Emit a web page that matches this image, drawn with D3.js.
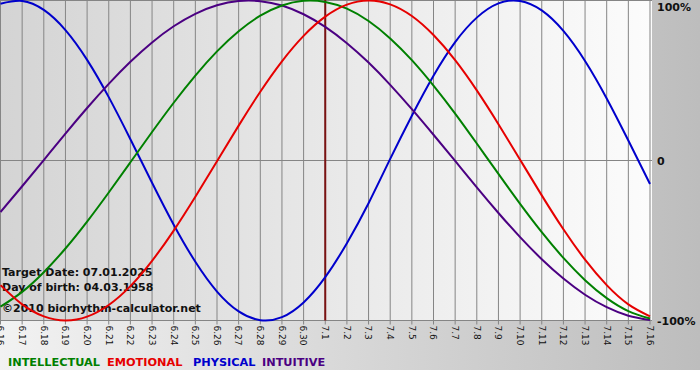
<!DOCTYPE html>
<html>
<head>
<meta charset="utf-8">
<script src="https://cdn.jsdelivr.net/npm/d3@7"></script>
<style>
  body { margin: 0; background: #fff; }
  svg { display: block; }
</style>
</head>
<body>
<svg id="chart"></svg>
<script>
// day labels, 6.16 .. 7.16
var days = ["6.16","6.17","6.18","6.19","6.20","6.21","6.22","6.23","6.24","6.25","6.26","6.27","6.28","6.29","6.30",
  "7.1","7.2","7.3","7.4","7.5","7.6","7.7","7.8","7.9","7.10","7.11","7.12","7.13","7.14","7.15","7.16"];
var targetDay = "7.1";

// values, -1 .. 1
var intellectual = [-0.914,-0.821,-0.698,-0.550,-0.382,-0.200,-0.011,0.178,0.361,0.531,0.682,0.808,0.905,0.969,0.998,
  0.991,0.949,0.872,0.763,0.627,0.468,0.293,0.106,-0.084,-0.271,-0.448,-0.609,-0.748,-0.860,-0.941,-0.988];
var emotional = [-0.779,-0.899,-0.974,-1.000,-0.976,-0.903,-0.785,-0.627,-0.438,-0.227,-0.005,0.218,0.430,0.620,0.779,
  0.899,0.974,1.000,0.976,0.903,0.784,0.627,0.438,0.227,0.005,-0.218,-0.430,-0.620,-0.779,-0.899,-0.974];
var physical = [0.980,0.997,0.941,0.815,0.629,0.396,0.133,-0.139,-0.401,-0.633,-0.819,-0.943,-0.998,-0.979,-0.887,
  -0.729,-0.517,-0.267,0.010,0.280,0.530,0.740,0.893,0.982,0.997,0.938,0.810,0.622,0.388,0.125,-0.147];
var intuitive = [-0.322,-0.161,0.003,0.168,0.328,0.479,0.617,0.738,0.839,0.917,0.970,0.997,0.996,0.969,0.914,
  0.835,0.733,0.612,0.473,0.321,0.161,-0.003,-0.168,-0.328,-0.479,-0.617,-0.738,-0.839,-0.917,-0.970,-0.997];

var seriesNames = ["INTELLECTUAL", "EMOTIONAL", "PHYSICAL", "INTUITIVE"];
var seriesColors = ["#008000", "#e60000", "#0000cc", "#4b0082"];
var yTicks = [1, 0, -1];
var yTickLabels = ["100%", "0", "-100%"];
var infoLines = ["Target Date: 07.01.2025", "Day of birth: 04.03.1958", "\u00a92010 biorhythm-calculator.net"];

var W = 700, H = 380;
var plotW = 652, plotH = 321;

var svg = d3.select("#chart").attr("width", W).attr("height", H);
var defs = svg.append("defs");

var bgGrad = defs.append("linearGradient").attr("id", "bg");
bgGrad.append("stop").attr("offset", "0%").attr("stop-color", "#f2f2f2");
bgGrad.append("stop").attr("offset", "100%").attr("stop-color", "#bdbdbd");

var plotGrad = defs.append("linearGradient").attr("id", "plotbg");
plotGrad.append("stop").attr("offset", "0%").attr("stop-color", "#d4d4d4");
plotGrad.append("stop").attr("offset", "100%").attr("stop-color", "#fcfcfc");

defs.append("clipPath").attr("id", "clip").append("rect")
  .attr("x", 0).attr("y", 0).attr("width", plotW).attr("height", plotH + 1);

svg.append("rect").attr("width", W).attr("height", 370).attr("fill", "url(#bg)");
svg.append("rect").attr("width", plotW).attr("height", plotH).attr("fill", "url(#plotbg)");

var x = d3.scaleLinear().domain([0, days.length - 1]).range([0.5, 650]);
var y = d3.scaleLinear().domain([-1, 1]).range([320.5, 0.5]);

// vertical grid + small ticks under the axis
svg.append("g").selectAll("line").data(days).join("line")
  .attr("x1", function(d, i) { return x(i); }).attr("x2", function(d, i) { return x(i); })
  .attr("y1", 0).attr("y2", y(-1) + 4)
  .attr("stroke", "#858585").attr("stroke-width", 1);

svg.append("g").selectAll("line").data(yTicks).join("line")
  .attr("x1", 0).attr("x2", plotW)
  .attr("y1", function(d) { return y(d); }).attr("y2", function(d) { return y(d); })
  .attr("stroke", "#858585").attr("stroke-width", 1);

// target date marker
var ti = days.indexOf(targetDay);
svg.append("line").attr("x1", x(ti)).attr("x2", x(ti)).attr("y1", 0).attr("y2", y(-1))
  .attr("stroke", "#7a1212").attr("stroke-width", 2);

// text block inside plot
svg.append("g").selectAll("text").data(infoLines).join("text")
  .attr("x", 2).attr("y", function(d, i) { return [276, 291, 312][i]; })
  .attr("font-family", "DejaVu Sans").attr("font-weight", "bold").attr("font-size", "11px")
  .attr("fill", "#111").text(function(d) { return d; });

var line = d3.line().x(function(d, i) { return x(i); }).y(function(d) { return y(d); })
  .curve(d3.curveNatural);

var allSeries = [physical, intuitive, intellectual, emotional];
var allColors = [seriesColors[2], seriesColors[3], seriesColors[0], seriesColors[1]];
svg.append("g").attr("clip-path", "url(#clip)").selectAll("path").data(allSeries).join("path")
  .attr("fill", "none").attr("stroke", function(d, i) { return allColors[i]; })
  .attr("stroke-width", 2).attr("stroke-linejoin", "round").attr("d", line);

// x labels, rotated
svg.append("g").selectAll("text").data(days).join("text")
  .attr("transform", function(d, i) { return "translate(" + x(i) + "," + (y(-1) + 5) + ") rotate(90)"; })
  .attr("dy", "0.35em").attr("text-anchor", "start")
  .attr("font-family", "DejaVu Sans").attr("font-size", "9px").attr("fill", "#111")
  .text(function(d) { return d; });

// right labels
svg.append("g").selectAll("text").data(yTicks).join("text")
  .attr("x", 657).attr("y", function(d, i) { return i == 0 ? y(d) + 10 : y(d) + 4; })
  .attr("font-family", "DejaVu Sans").attr("font-weight", "bold").attr("font-size", "11px")
  .attr("fill", "#111").text(function(d, i) { return yTickLabels[i]; });

// legend
var legX = [8, 107, 193, 262];
svg.append("g").selectAll("text").data(seriesNames).join("text")
  .attr("x", function(d, i) { return legX[i]; }).attr("y", 366)
  .attr("font-family", "DejaVu Sans").attr("font-weight", "bold").attr("font-size", "11.3px")
  .attr("fill", function(d, i) { return seriesColors[i]; })
  .text(function(d) { return d; });
</script>
</body>
</html>
